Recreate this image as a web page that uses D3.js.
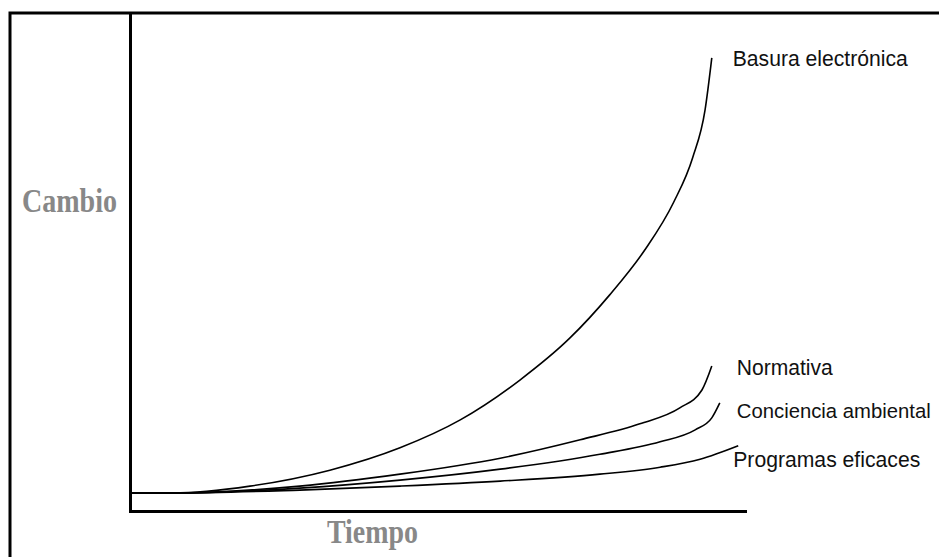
<!DOCTYPE html>
<html>
<head>
<meta charset="utf-8">
<script src="https://cdn.jsdelivr.net/npm/d3@7"></script>
<style>
  html, body { margin: 0; padding: 0; background: #fff; overflow: hidden; }
  svg { display: block; }
</style>
</head>
<body>
<div id="chart"></div>
<script>
// Series names (curve labels)
const seriesNames = ['Basura electrónica', 'Normativa', 'Conciencia ambiental', 'Programas eficaces'];

// Time values (x) for each series
const basuraTime = [0, 0.70, 1.95, 3.25, 4.39, 5.37, 6.34, 7.15, 7.80, 8.37, 8.84, 9.15, 9.35, 9.46];
const normativaTime = [0, 0.70, 2.76, 4.39, 6.02, 7.32, 8.29, 8.94, 9.30, 9.46];
const concienciaTime = [0, 0.70, 2.76, 4.39, 6.02, 7.64, 8.62, 9.19, 9.46, 9.59];
const programasTime = [0, 0.70, 2.76, 4.39, 6.02, 7.64, 8.62, 9.27, 9.89];

// Change values (y) for each series
const basuraChange = [0.36, 0.36, 0.50, 0.82, 1.27, 1.83, 2.63, 3.47, 4.34, 5.24, 6.20, 7.10, 8.05, 9.10];
const normativaChange = [0.36, 0.36, 0.50, 0.74, 1.06, 1.43, 1.75, 2.07, 2.43, 2.91];
const concienciaChange = [0.36, 0.36, 0.46, 0.62, 0.84, 1.14, 1.39, 1.63, 1.87, 2.17];
const programasChange = [0.36, 0.36, 0.42, 0.50, 0.60, 0.74, 0.88, 1.04, 1.31];

// Axis titles
const xTitle = 'Tiempo';
const yTitle = 'Cambio';

(function() {
	'use strict';

	const width = 939;
	const height = 557;

	const series = [
		{ name: seriesNames[0], t: basuraTime, v: basuraChange },
		{ name: seriesNames[1], t: normativaTime, v: normativaChange },
		{ name: seriesNames[2], t: concienciaTime, v: concienciaChange },
		{ name: seriesNames[3], t: programasTime, v: programasChange }
	];

	// label placement relative to the end of each curve
	const labelLayout = [
		{ dx: 21, dy: 8, len: 175, size: 22 },
		{ dx: 25, dy: 9, len: 96, size: 22 },
		{ dx: 17, dy: 15, len: 194, size: 20.5 },
		{ dx: -5, dy: 21, len: 187, size: 22 }
	];

	const svg = d3.select('#chart')
		.append('svg')
		.attr('width', width)
		.attr('height', height)
		.attr('viewBox', [0, 0, width, height]);

	// Scales
	const x = d3.scaleLinear().domain([0, 10]).range([130, 745]);
	const y = d3.scaleLinear().domain([0, 10]).range([511, 13]);

	// Outer frame (right and bottom edges fall outside the picture)
	svg.append('path')
		.attr('d', 'M10,' + (height + 5) + 'V13H' + (width + 5))
		.attr('fill', 'none')
		.attr('stroke', '#000')
		.attr('stroke-width', 3);

	// Axes, no ticks
	const xAxis = svg.append('g')
		.attr('transform', 'translate(0,' + y(0) + ')')
		.call(d3.axisBottom(x).ticks(0).tickSizeOuter(0));
	const yAxis = svg.append('g')
		.attr('transform', 'translate(' + x(0) + ',0)')
		.call(d3.axisLeft(y).ticks(0).tickSizeOuter(0));
	[xAxis, yAxis].forEach(function(g) {
		g.select('.domain')
			.attr('stroke', '#000')
			.attr('stroke-width', 3)
			.attr('stroke-linecap', 'square');
	});

	// Curves
	const line = d3.line()
		.x(function(d) { return x(d[0]); })
		.y(function(d) { return y(d[1]); })
		.curve(d3.curveMonotoneX);

	svg.append('g')
		.selectAll('path')
		.data(series)
		.join('path')
		.attr('d', function(s) { return line(d3.zip(s.t, s.v)); })
		.attr('fill', 'none')
		.attr('stroke', '#000')
		.attr('stroke-width', 1.6);

	// Curve labels
	svg.append('g')
		.selectAll('text')
		.data(series)
		.join('text')
		.attr('x', function(s, i) { return x(s.t[s.t.length - 1]) + labelLayout[i].dx; })
		.attr('y', function(s, i) { return y(s.v[s.v.length - 1]) + labelLayout[i].dy; })
		.attr('textLength', function(s, i) { return labelLayout[i].len; })
		.attr('lengthAdjust', 'spacingAndGlyphs')
		.attr('font-family', '"Liberation Sans", Arial, sans-serif')
		.attr('font-size', function(s, i) { return labelLayout[i].size; })
		.attr('fill', '#111')
		.text(function(s) { return s.name; });

	// Axis titles
	svg.append('text')
		.attr('x', 22)
		.attr('y', 212)
		.attr('textLength', 95)
		.attr('lengthAdjust', 'spacingAndGlyphs')
		.attr('font-family', '"Liberation Serif", "Times New Roman", serif')
		.attr('font-weight', 'bold')
		.attr('font-size', 34)
		.attr('fill', '#888')
		.text(yTitle);

	svg.append('text')
		.attr('x', 327)
		.attr('y', 543)
		.attr('textLength', 91)
		.attr('lengthAdjust', 'spacingAndGlyphs')
		.attr('font-family', '"Liberation Serif", "Times New Roman", serif')
		.attr('font-weight', 'bold')
		.attr('font-size', 34)
		.attr('fill', '#888')
		.text(xTitle);
})();
</script>
</body>
</html>
